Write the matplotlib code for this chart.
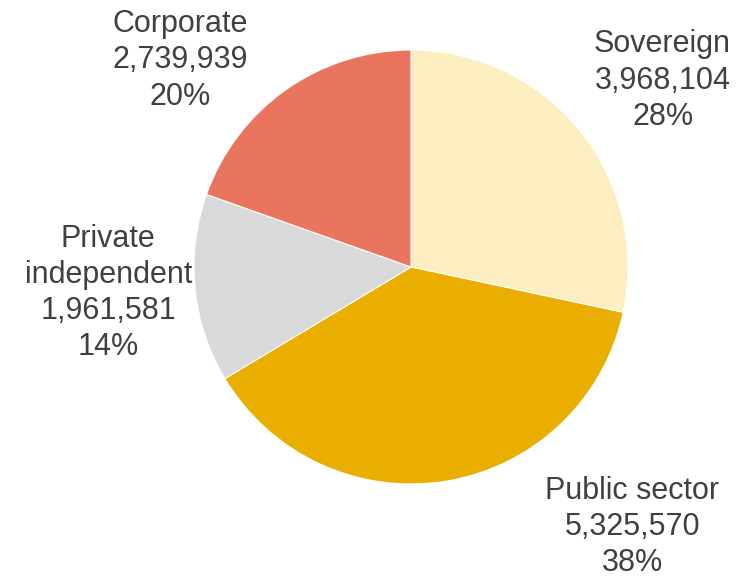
import matplotlib
matplotlib.use("Agg")
import matplotlib.pyplot as plt

# Holdings by issuer type
categories = ["Sovereign", "Public sector", "Private\nindependent", "Corporate"]
amounts = [3968104, 5325570, 1961581, 2739939]
shares = [28, 38, 14, 20]
colors = ["#FDEEC2", "#EAAE00", "#D9D9D9", "#EA755E"]

# label anchor points in axes fractions (x, y from bottom)
label_pos = [(0.893, 0.861), (0.852, 0.091), (0.146, 0.495), (0.243, 0.896)]

plt.rcParams["font.family"] = ["Liberation Sans", "DejaVu Sans"]

fig = plt.figure(figsize=(7.42, 5.80), dpi=100)
ax = fig.add_axes([0, 0, 1, 1])

ax.pie(amounts, colors=colors, startangle=90, counterclock=False,
       center=(411, 313), radius=217,
       wedgeprops=dict(edgecolor="white", linewidth=0.8))

# pie() resets the view, so fix the pixel-sized limits afterwards
ax.set_xlim(0, 742)
ax.set_ylim(0, 580)
ax.set_aspect("equal")
ax.axis("off")

for name, amt, pct, (px, py) in zip(categories, amounts, shares, label_pos):
    ax.text(px, py, f"{name}\n{amt:,}\n{pct}%", transform=ax.transAxes,
            ha="center", va="center", fontsize=22, color="#404040",
            linespacing=1.27)

fig.savefig("out.png", dpi=100)
